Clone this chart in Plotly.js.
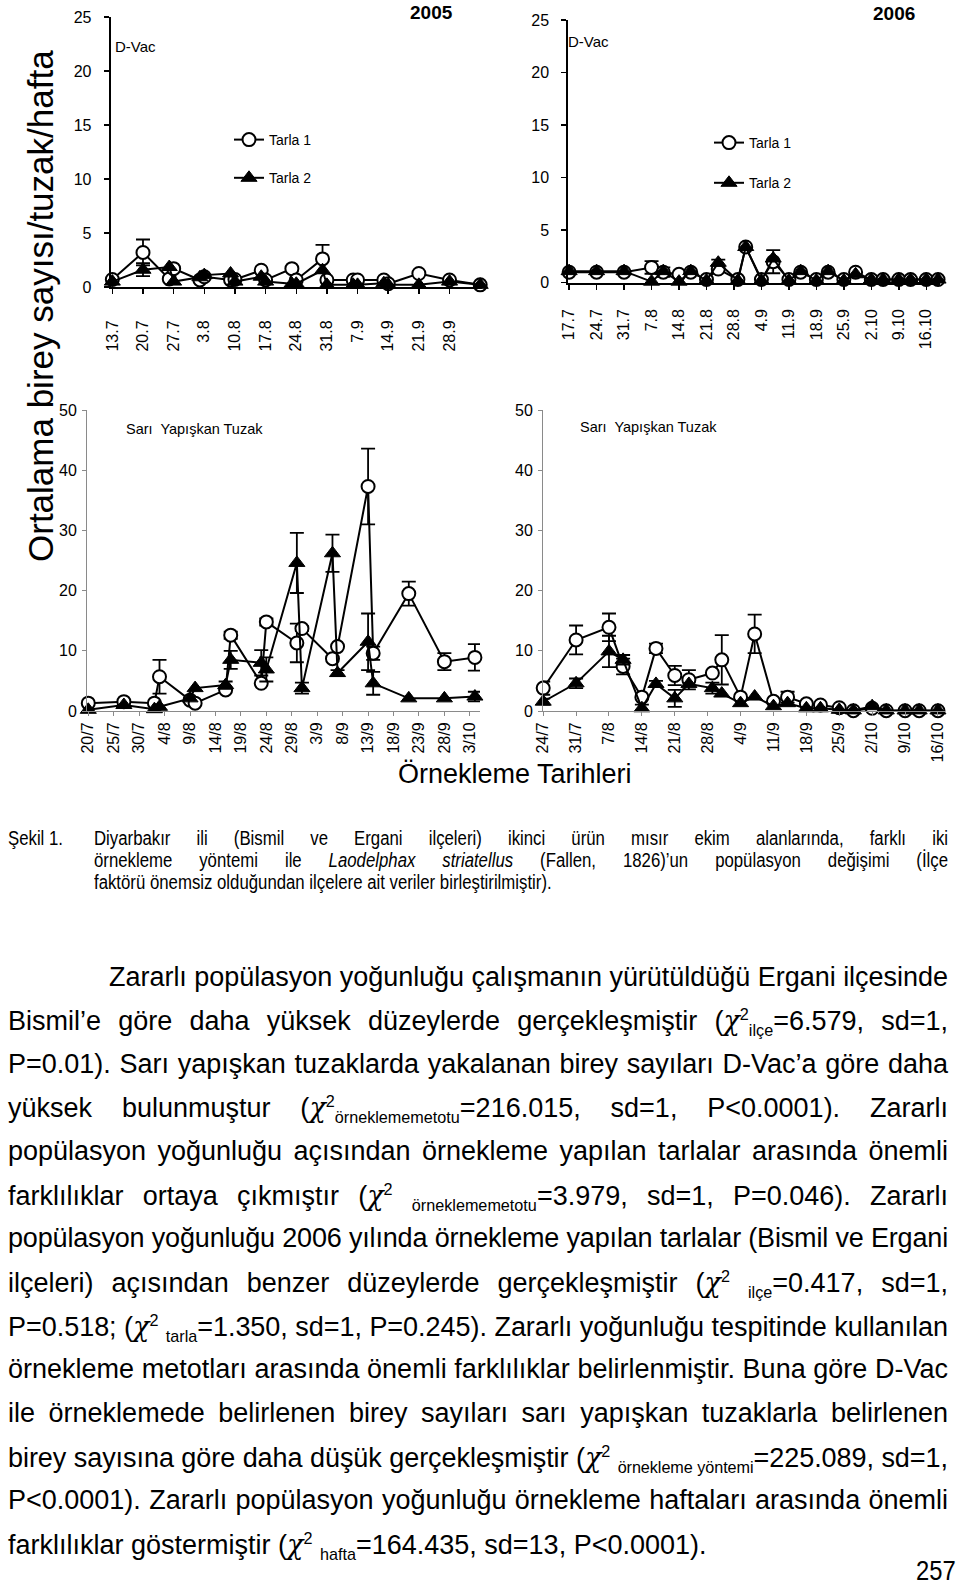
<!DOCTYPE html>
<html>
<head>
<meta charset="utf-8">
<script src="https://cdn.plot.ly/plotly-3.0.1.min.js"></script>
<style>
  html,body{margin:0;padding:0;background:#fff;}
  #page{position:relative;width:960px;height:1585px;overflow:hidden;background:#fff;}
  #plot{position:absolute;left:0;top:0;width:960px;height:800px;}
  .ln{position:absolute;white-space:nowrap;color:#000;font-family:"Liberation Sans",Arial,sans-serif;}
  .cap{font-size:19.5px;line-height:20px;height:20px;transform-origin:0 50%;}
  .par{font-size:27px;line-height:27px;height:27px;}
  .pg{font-size:28px;line-height:24px;height:24px;transform-origin:100% 50%;}
  .par sup,.par sub,.cap sup,.cap sub{font-size:60%;line-height:0;}
  .chi{font-family:"DejaVu Serif",serif;font-style:italic;}
</style>
</head>
<body>
<div id="page">
  <div id="plot"></div>
  <div id="txt"></div>
</div>
<script>
// ---------------- DATA ----------------
// 2005, D-Vac (top left)
const dvac05Dates = ['2005-07-13','2005-07-20','2005-07-26','2005-07-27','2005-08-02','2005-08-03','2005-08-09','2005-08-10','2005-08-16','2005-08-17','2005-08-23','2005-08-24','2005-08-30','2005-08-31','2005-09-06','2005-09-07','2005-09-13','2005-09-14','2005-09-21','2005-09-28','2005-10-05'];
const dvac05T1    = [0.7, 3.2, 0.75, 1.7, 0.65, 0.95, 0.65, 0.7, 1.55, 0.65, 1.7, 0.65, 2.6, 0.65, 0.65, 0.65, 0.65, 0.3, 1.25, 0.65, 0.2];
const dvac05T1Err = [null,1.2, null, null,null, null, null, null,null, null, null,null, 1.3, null, null, null, null, null,null, null, null];
const dvac05T2    = [0.5, 1.6, 1.85, 0.5, 0.9, 1.1, 1.25, 0.5, 0.95, 0.5, 0.3, 0.3, 1.55, 0.2, 0.2, 0.2, 0.35, 0.2, 0.2, 0.5, 0.2];
const dvac05T2Err = [null,0.6, null, null,null,null, null, null,null, null,null,null, null, null,null,null, null, null,null,null,null];

// 2006, D-Vac (top right)
const dvac06Dates = ['2006-07-17','2006-07-24','2006-07-31','2006-08-07','2006-08-10','2006-08-14','2006-08-17','2006-08-21','2006-08-24','2006-08-29','2006-08-31','2006-09-04','2006-09-07','2006-09-11','2006-09-14','2006-09-18','2006-09-21','2006-09-25','2006-09-28','2006-10-02','2006-10-05','2006-10-09','2006-10-12','2006-10-16','2006-10-19'];
const dvac06T1    = [1.0, 1.0, 1.0, 1.45, 1.0, 0.8, 1.0, 0.3, 1.3, 0.3, 3.4, 0.3, 2.0, 0.3, 1.0, 0.3, 1.0, 0.3, 1.0, 0.3, 0.3, 0.3, 0.3, 0.3, 0.3];
const dvac06T1Err = [null,null,null,0.6, 0.45,null,null,null,null,null,null,null,1.1, null,null,null,null,null,null,null,null,null,null,null,null];
const dvac06T2    = [1.1, 1.1, 1.1, 0.1, 1.1, 0.1, 1.1, 0.2, 1.9, 0.2, 3.4, 0.2, 2.3, 0.2, 1.1, 0.2, 1.1, 0.2, 0.8, 0.3, 0.3, 0.3, 0.3, 0.3, 0.3];
const dvac06T2Err = [null,null,null,null,null,null,null,null,0.3, null,null,null,null,null,null,null,null,null,null,null,null,null,null,null,null];

// 2005, Sarı Yapışkan Tuzak (bottom left)
const sy05Dates = ['2005-07-20','2005-07-27','2005-08-02','2005-08-03','2005-08-09','2005-08-10','2005-08-16','2005-08-17','2005-08-23','2005-08-24','2005-08-30','2005-08-31','2005-09-06','2005-09-07','2005-09-13','2005-09-14','2005-09-21','2005-09-28','2005-10-04'];
const sy05T1    = [1.3, 1.55, 1.3, 5.7, 1.8, 1.3, 3.5, 12.6, 4.6, 14.8, 11.3, 13.7, 8.7, 10.7, 37.3, 9.6, 19.5, 8.2, 8.9];
const sy05T1Err = [null,null, null,2.8, null,null,null,0.6, null,0.6, 3.2, 0.4, null,null, 6.3, 1.1, 2.0, 1.4, 2.2];
const sy05T2    = [0.2, 1.0, 0.3, 0.7, 2.1, 3.8, 4.3, 8.5, 8.0, 6.9, 24.6, 3.8, 26.2, 6.3, 11.5, 4.6, 2.1, 2.1, 2.4];
const sy05T2Err = [null,null,null,null,null,null,0.6, 1.5, 2.1, 2.0, 5.0, 0.9, 3.1, 0.5, 4.7, 1.9, null,null,0.8];

// 2006, Sarı Yapışkan Tuzak (bottom right)
const sy06Dates = ['2006-07-24','2006-07-31','2006-08-07','2006-08-10','2006-08-14','2006-08-17','2006-08-21','2006-08-24','2006-08-29','2006-08-31','2006-09-04','2006-09-07','2006-09-11','2006-09-14','2006-09-18','2006-09-21','2006-09-25','2006-09-28','2006-10-02','2006-10-05','2006-10-09','2006-10-12','2006-10-16'];
const sy06T1    = [3.8, 11.8, 13.9, 7.4, 2.3, 10.4, 5.9, 5.2, 6.3, 8.5, 2.3, 12.8, 1.6, 2.3, 1.2, 1.0, 0.55, 0.05, 0.45, 0.05, 0.05, 0.05, 0.05];
const sy06T1Err = [1.1, 2.4, 2.3, 1.3, null,0.8, 1.6, 1.6, null,4.1, null,3.2, null,0.9, null,null,null,null,null,null,null,null,null];
const sy06T2    = [1.55, 4.6, 9.9, 8.5, 0.45, 4.5, 2.1, 4.5, 3.8, 2.9, 1.3, 2.4, 0.8, 1.3, 0.45, 0.45, 0.2, 0.1, 0.8, 0.1, 0.1, 0.1, 0.1];
const sy06T2Err = [0.5, 0.8, 2.6, 0.8, 0.6, 0.5, 1.4, null,0.9, null,null,null,null,null,null,null,null,null,null,null,null,null,null];

// tick positions and labels
const dvac05TickDates = ['2005-07-13','2005-07-20','2005-07-27','2005-08-03','2005-08-10','2005-08-17','2005-08-24','2005-08-31','2005-09-07','2005-09-14','2005-09-21','2005-09-28'];
const dvac05TickText  = ['13.7','20.7','27.7','3.8','10.8','17.8','24.8','31.8','7.9','14.9','21.9','28.9'];
const dvac06TickDates = ['2006-07-17','2006-07-24','2006-07-31','2006-08-07','2006-08-14','2006-08-21','2006-08-28','2006-09-04','2006-09-11','2006-09-18','2006-09-25','2006-10-02','2006-10-09','2006-10-16'];
const dvac06TickText  = ['17.7','24.7','31.7','7.8','14.8','21.8','28.8','4.9','11.9','18.9','25.9','2.10','9.10','16.10'];
const sy05TickDates = ['2005-07-20','2005-07-25','2005-07-30','2005-08-04','2005-08-09','2005-08-14','2005-08-19','2005-08-24','2005-08-29','2005-09-03','2005-09-08','2005-09-13','2005-09-18','2005-09-23','2005-09-28','2005-10-03'];
const sy05TickText  = ['20/7','25/7','30/7','4/8','9/8','14/8','19/8','24/8','29/8','3/9','8/9','13/9','18/9','23/9','28/9','3/10'];
const sy06TickDates = ['2006-07-24','2006-07-31','2006-08-07','2006-08-14','2006-08-21','2006-08-28','2006-09-04','2006-09-11','2006-09-18','2006-09-25','2006-10-02','2006-10-09','2006-10-16'];
const sy06TickText  = ['24/7','31/7','7/8','14/8','21/8','28/8','4/9','11/9','18/9','25/9','2/10','9/10','16/10'];

const seriesNames = ['Tarla 1','Tarla 2'];

// ---------------- LAYOUT HELPERS ----------------
const W = 960, H = 800;
const X = px => px / W;
const Y = px => 1 - px / H;
const FONT = '"Liberation Sans", Arial, sans-serif';

function errArr(a){ return a.map(v => (v === null ? NaN : v)); }

function series(dates, vals, errs, which, xa, ya, legendId, showLeg){
  const isT1 = which === 0;
  return {
    type:'scatter', mode:'lines+markers', x:dates, y:vals,
    xaxis:xa, yaxis:ya, name:seriesNames[which],
    legend:legendId, legendgroup:legendId+'g'+which, showlegend:showLeg,
    cliponaxis:false,
    line:{color:'#000', width:2},
    marker: isT1 ? {symbol:'circle', size:13, color:'#fff', line:{color:'#000', width:2}}
                 : {symbol:'triangle-up', size:14, color:'#000', line:{color:'#000', width:1}},
    error_y:{type:'data', array:errArr(errs), visible:true, color:'#000', thickness:1.8, width:7},
    hoverinfo:'x+y'
  };
}

const traces = [
  series(dvac05Dates, dvac05T1, dvac05T1Err, 0, 'x', 'y', 'legend', true),
  series(dvac05Dates, dvac05T2, dvac05T2Err, 1, 'x', 'y', 'legend', true),
  series(dvac06Dates, dvac06T1, dvac06T1Err, 0, 'x2', 'y2', 'legend2', true),
  series(dvac06Dates, dvac06T2, dvac06T2Err, 1, 'x2', 'y2', 'legend2', true),
  series(sy05Dates, sy05T1, sy05T1Err, 0, 'x3', 'y3', 'legend', false),
  series(sy05Dates, sy05T2, sy05T2Err, 1, 'x3', 'y3', 'legend', false),
  series(sy06Dates, sy06T1, sy06T1Err, 0, 'x4', 'y4', 'legend2', false),
  series(sy06Dates, sy06T2, sy06T2Err, 1, 'x4', 'y4', 'legend2', false)
];

function xAx(domPx, range, tv, tt, anchor, top, standoff){
  return {
    type:'date', domain:[X(domPx[0]), X(domPx[1])], range:range, anchor:anchor,
    tickmode:'array', tickvals:tv, ticktext:tt, tickangle:-90,
    showline:true, linecolor: top ? '#000' : '#8a8a8a', linewidth: top ? 2 : 1,
    ticks:'outside', ticklen: top ? 5 : 4, tickwidth: top ? 1.5 : 1, tickcolor: top ? '#000' : '#8a8a8a',
    ticklabelstandoff: standoff,
    tickfont:{family:FONT, size:16, color:'#000'},
    showgrid:false, zeroline:false, fixedrange:true
  };
}
function yAx(domPx, range, dtick, anchor, top){
  return {
    domain:[Y(domPx[1]), Y(domPx[0])], range:range, dtick:dtick, anchor:anchor,
    showline:true, linecolor: top ? '#000' : '#8a8a8a', linewidth: top ? 2 : 1,
    ticks:'outside', ticklen: top ? 5 : 4, tickwidth: top ? 1.5 : 1, tickcolor: top ? '#000' : '#8a8a8a',
    ticklabelstandoff: top ? 9 : 2,
    tickfont:{family:FONT, size:16, color:'#000'},
    showgrid:false, zeroline:false, fixedrange:true
  };
}

function note(text, xpx, ypx, size, extra){
  return Object.assign({text:text, x:X(xpx), y:Y(ypx), xref:'paper', yref:'paper',
    xanchor:'center', yanchor:'middle', showarrow:false, font:{size:size}}, extra || {});
}

const layout = {
  width:W, height:H, margin:{l:0, r:0, t:0, b:0},
  paper_bgcolor:'#fff', plot_bgcolor:'rgba(0,0,0,0)',
  font:{family:FONT, color:'#000'},
  xaxis:  xAx([110.7, 482], ['2005-07-12 15:00','2005-10-05 10:00'], dvac05TickDates, dvac05TickText, 'y', true, 20),
  yaxis:  yAx([17, 287], [0,25], 5, 'x', true),
  xaxis2: xAx([568.3, 940], ['2006-07-16 19:00','2006-10-19 12:00'], dvac06TickDates, dvac06TickText, 'y2', true, 13),
  yaxis2: yAx([20, 282.7], [0,25], 5, 'x2', true),
  xaxis3: xAx([87, 480], ['2005-07-19 18:00','2005-10-05 00:00'], sy05TickDates, sy05TickText, 'y3', false, 0),
  yaxis3: yAx([410, 711], [0,50], 10, 'x3', false),
  xaxis4: xAx([543, 945], ['2006-07-23 23:00','2006-10-17 12:00'], sy06TickDates, sy06TickText, 'y4', false, 0),
  yaxis4: yAx([410, 711], [0,50], 10, 'x4', false),
  legend:  {x:X(229), y:Y(124), xanchor:'left', yanchor:'top', bgcolor:'rgba(0,0,0,0)', borderwidth:0,
            font:{family:FONT, size:14}, traceorder:'grouped', tracegroupgap:17, itemclick:false, itemdoubleclick:false},
  legend2: {x:X(709), y:Y(127), xanchor:'left', yanchor:'top', bgcolor:'rgba(0,0,0,0)', borderwidth:0,
            font:{family:FONT, size:14}, traceorder:'grouped', tracegroupgap:19, itemclick:false, itemdoubleclick:false},
  annotations:[
    note('<b>2005</b>', 431, 13, 19),
    note('<b>2006</b>', 894, 14, 19),
    note('D-Vac', 113, 46, 15, {xanchor:'left'}),
    note('D-Vac', 566, 42, 15, {xanchor:'left'}),
    note('Sarı  Yapışkan Tuzak', 124, 429, 14.5, {xanchor:'left'}),
    note('Sarı  Yapışkan Tuzak', 578, 427, 14.5, {xanchor:'left'}),
    note('Ortalama birey sayısı/tuzak/hafta', 40, 306, 35, {textangle:-90}),
    note('Örnekleme Tarihleri', 515, 774, 27)
  ]
};

Plotly.newPlot('plot', traces, layout, {staticPlot:true, displayModeBar:false});

// ---------------- TEXT BELOW ----------------
const CHI = '<span class="chi">χ</span>';
const CAP_SCALE = 0.86;   // narrow face look of the caption
const PAR0 = 977, PARSTEP = 43.65;
const textLines = [
  // [class, left, width (null = natural), centerY, html]
  ['cap', 8, null, 838, 'Şekil 1.'],
  ['cap', 94, 854, 838, 'Diyarbakır ili (Bismil ve Ergani ilçeleri) ikinci ürün mısır ekim alanlarında, farklı iki'],
  ['cap', 94, 854, 860, 'örnekleme yöntemi ile <i>Laodelphax striatellus</i> (Fallen, 1826)’un popülasyon değişimi (İlçe'],
  ['cap', 94, null, 882, 'faktörü önemsiz olduğundan ilçelere ait veriler birleştirilmiştir).'],
  ['par', 109, 839, PAR0, 'Zararlı popülasyon yoğunluğu çalışmanın yürütüldüğü Ergani ilçesinde'],
  ['par', 8, 940, PAR0+PARSTEP*1, 'Bismil’e göre daha yüksek düzeylerde gerçekleşmiştir ('+CHI+'<sup>2</sup><sub>ilçe</sub>=6.579, sd=1,'],
  ['par', 8, 940, PAR0+PARSTEP*2, 'P=0.01). Sarı yapışkan tuzaklarda yakalanan birey sayıları D-Vac’a göre daha'],
  ['par', 8, 940, PAR0+PARSTEP*3, 'yüksek bulunmuştur ('+CHI+'<sup>2</sup><sub>örneklememetotu</sub>=216.015, sd=1, P&lt;0.0001). Zararlı'],
  ['par', 8, 940, PAR0+PARSTEP*4, 'popülasyon yoğunluğu açısından örnekleme yapılan tarlalar arasında önemli'],
  ['par', 8, 940, PAR0+PARSTEP*5, 'farklılıklar ortaya çıkmıştır ('+CHI+'<sup>2</sup> <sub>örneklememetotu</sub>=3.979, sd=1, P=0.046). Zararlı'],
  ['par', 8, 940, PAR0+PARSTEP*6, 'popülasyon yoğunluğu 2006 yılında örnekleme yapılan tarlalar (Bismil ve Ergani'],
  ['par', 8, 940, PAR0+PARSTEP*7, 'ilçeleri) açısından benzer düzeylerde gerçekleşmiştir ('+CHI+'<sup>2</sup> <sub>ilçe</sub>=0.417, sd=1,'],
  ['par', 8, 940, PAR0+PARSTEP*8, 'P=0.518; ('+CHI+'<sup>2</sup> <sub>tarla</sub>=1.350, sd=1, P=0.245). Zararlı yoğunluğu tespitinde kullanılan'],
  ['par', 8, 940, PAR0+PARSTEP*9, 'örnekleme metotları arasında önemli farklılıklar belirlenmiştir. Buna göre D-Vac'],
  ['par', 8, 940, PAR0+PARSTEP*10, 'ile örneklemede belirlenen birey sayıları sarı yapışkan tuzaklarla belirlenen'],
  ['par', 8, 940, PAR0+PARSTEP*11, 'birey sayısına göre daha düşük gerçekleşmiştir ('+CHI+'<sup>2</sup> <sub>örnekleme yöntemi</sub>=225.089, sd=1,'],
  ['par', 8, 940, PAR0+PARSTEP*12, 'P&lt;0.0001). Zararlı popülasyon yoğunluğu örnekleme haftaları arasında önemli'],
  ['par', 8, null, PAR0+PARSTEP*13, 'farklılıklar göstermiştir ('+CHI+'<sup>2</sup> <sub>hafta</sub>=164.435, sd=13, P&lt;0.0001).'],
  ['pg', null, null, 1571, '257']
];
const txt = document.getElementById('txt');
textLines.forEach(([cls, left, width, cy, html]) => {
  const d = document.createElement('div');
  d.className = 'ln ' + cls;
  d.innerHTML = html;
  const fs = cls === 'cap' ? 20 : (cls === 'pg' ? 24 : 27);
  d.style.top = (cy - fs/2) + 'px';
  txt.appendChild(d);
  if (left === null) { d.style.right = '4px'; d.style.transform = 'scaleX(0.85)'; return; }
  d.style.left = left + 'px';
  const k = cls === 'cap' ? CAP_SCALE : 1;
  const nat = d.getBoundingClientRect().width;
  if (width) {
    const spaces = (d.textContent.match(/ /g) || []).length;
    const extra = width - nat * k;
    if (extra >= 0 && spaces > 0) {
      d.style.wordSpacing = (extra / k / spaces) + 'px';
    } else if (extra < 0) {
      d.style.letterSpacing = (extra / k / d.textContent.length) + 'px';
    }
  }
  if (k !== 1) d.style.transform = 'scaleX(' + k + ')';
});
</script>
</body>
</html>
